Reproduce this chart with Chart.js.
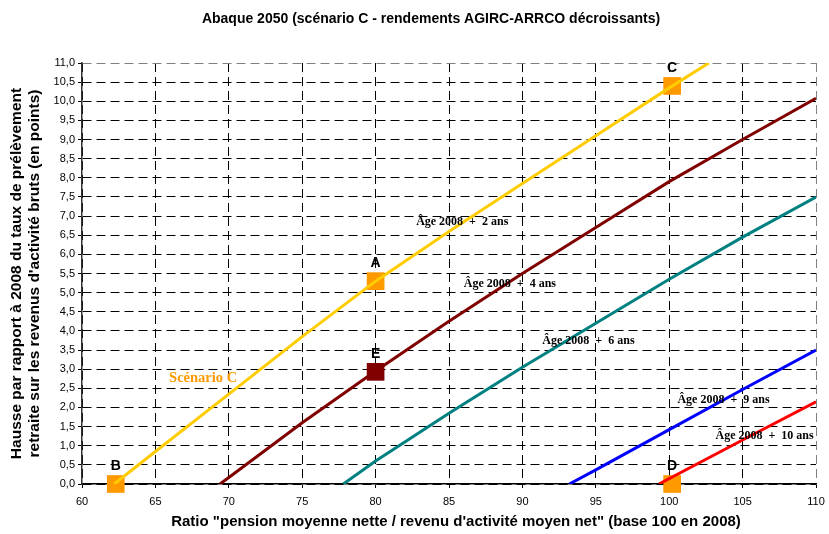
<!DOCTYPE html>
<html><head><meta charset="utf-8">
<script src="https://cdn.jsdelivr.net/npm/chart.js@4/dist/chart.umd.min.js"></script>
<style>html,body{margin:0;padding:0;background:#fff}#wrap{width:829px;height:534px}</style>
</head><body><div id="wrap"><canvas id="c" width="829" height="534"></canvas></div>
<script>
// Data
const xTicks = [60, 65, 70, 75, 80, 85, 90, 95, 100, 105, 110];
const seriesNames = ["Âge 2008  +  2 ans", "Âge 2008  +  4 ans", "Âge 2008  +  6 ans", "Âge 2008  +  9 ans", "Âge 2008  +  10 ans"];
const x2 = [62.2, 65, 70, 75, 80, 85, 90, 95, 100, 102.7];
const y2 = [0, 0.85, 2.35, 3.85, 5.3, 6.6, 7.85, 9.1, 10.35, 11.0];
const x4 = [69.4, 70, 75, 80, 85, 90, 95, 100, 105, 110];
const y4 = [0, 0.17, 1.6, 2.95, 4.25, 5.5, 6.7, 7.9, 9.0, 10.08];
const x6 = [77.8, 80, 85, 90, 95, 100, 105, 110];
const y6 = [0, 0.6, 1.85, 3.05, 4.2, 5.35, 6.45, 7.5];
const x9 = [93.2, 95, 100, 105, 110];
const y9 = [0, 0.37, 1.42, 2.47, 3.5];
const x10 = [99.3, 105, 110];
const y10 = [0, 1.15, 2.15];
const pointNames = ["A", "B", "C", "D", "E"];
const pointX = [80, 62.3, 100.2, 100.2, 80];
const pointY = [5.3, 0, 10.4, 0, 2.93];

const zip = (xs, ys) => xs.map((x, i) => ({x, y: ys[i]}));
const lineColors = ["#FFCC00", "#800000", "#008080", "#0000FF", "#FF0000"];
const lineData = [zip(x2, y2), zip(x4, y4), zip(x6, y6), zip(x9, y9), zip(x10, y10)];

const datasets = lineData.map((d, i) => ({
  label: seriesNames[i], data: d, showLine: true, borderColor: lineColors[i],
  borderWidth: 3, pointRadius: 0, pointHoverRadius: 0, tension: 0, fill: false
}));
const ptColors = pointNames.map(n => n === "E" ? "#800000" : "#FF9900");
datasets.push({
  label: "points", data: zip(pointX, pointY), showLine: false,
  pointStyle: "rect", pointRadius: 12.5, pointBackgroundColor: ptColors,
  pointBorderColor: ptColors, pointBorderWidth: 0, clip: false
});

// Annotation texts (data coordinates of their centres)
const noteFont = "bold 12px 'Liberation Serif'";
const notes = [
  {t: seriesNames[0], x: 85.9, y: 6.85, c: "#000", f: noteFont},
  {t: seriesNames[1], x: 89.15, y: 5.23, c: "#000", f: noteFont},
  {t: seriesNames[2], x: 94.5, y: 3.74, c: "#000", f: noteFont},
  {t: seriesNames[3], x: 103.7, y: 2.2, c: "#000", f: noteFont},
  {t: seriesNames[4], x: 106.5, y: 1.25, c: "#000", f: noteFont},
  {t: "Scénario C", x: 68.25, y: 2.77, c: "#FF9900", f: "bold 14.5px 'Liberation Serif'"}
];

const textPlugin = {
  id: "texts",
  afterDatasetsDraw(chart) {
    const {ctx, scales: {x, y}, chartArea} = chart;
    ctx.save();
    ctx.textAlign = "center"; ctx.textBaseline = "middle";
    notes.forEach(n => { ctx.font = n.f; ctx.fillStyle = n.c; ctx.fillText(n.t, x.getPixelForValue(n.x), y.getPixelForValue(n.y)); });
    ctx.font = "bold 14px 'Liberation Sans'"; ctx.fillStyle = "#000";
    pointNames.forEach((p, i) => ctx.fillText(p, x.getPixelForValue(pointX[i]), y.getPixelForValue(pointY[i]) - 18));
    // titles
    ctx.font = "bold 14px 'Liberation Sans'";
    ctx.fillText("Abaque 2050 (scénario C - rendements AGIRC-ARRCO décroissants)", 431, 19);
    ctx.font = "bold 15px 'Liberation Sans'";
    ctx.fillText("Ratio \"pension moyenne nette / revenu d'activité moyen net\" (base 100 en 2008)", 456, 522);
    ctx.font = "bold 15.5px 'Liberation Sans'";
    const cy = (chartArea.top + chartArea.bottom) / 2;
    ctx.translate(0, cy); ctx.rotate(-Math.PI / 2);
    ctx.fillText("Hausse par rapport à 2008 du taux de prélèvement", 0, 17);
    ctx.fillText("retraite sur les revenus d'activité bruts (en points)", 0, 35);
    ctx.restore();
  }
};

new Chart(document.getElementById("c"), {
  type: "scatter",
  data: {datasets},
  plugins: [textPlugin],
  options: {
    responsive: false, animation: false, devicePixelRatio: 1,
    layout: {padding: {top: 63, right: 13, left: 0, bottom: 0}},
    plugins: {legend: {display: false}, title: {display: false}, tooltip: {enabled: false}},
    scales: {
      x: {
        type: "linear", min: 60, max: 110,
        afterBuildTicks: s => { s.ticks = xTicks.map(v => ({value: v})); },
        afterFit: s => { s.height = 50; s.paddingLeft = 0; s.paddingRight = 0; },
        ticks: {color: "#000", font: {family: "'Liberation Sans'", size: 11}, padding: 7, maxRotation: 0},
        grid: {color: ctx => ctx.tick && ctx.tick.value === 110 ? "#808080" : "#000", lineWidth: 1, tickLength: 4, tickColor: "#000"},
        border: {display: true, color: "#000", width: 1.5, dash: [9, 5]}
      },
      y: {
        min: 0, max: 11,
        ticks: {stepSize: 0.5, color: "#000", font: {family: "'Liberation Sans'", size: 11}, padding: 3,
          callback: v => v.toFixed(1).replace(".", ",")},
        afterFit: s => { s.width = 82; s.paddingTop = 0; s.paddingBottom = 0; },
        grid: {color: ctx => ctx.tick && ctx.tick.value === 11 ? "#808080" : "#000", lineWidth: 1, tickLength: 4, tickColor: "#000"},
        border: {display: true, color: "#333", width: 1.5, dash: [9, 5]}
      }
    }
  }
});
</script></body></html>
